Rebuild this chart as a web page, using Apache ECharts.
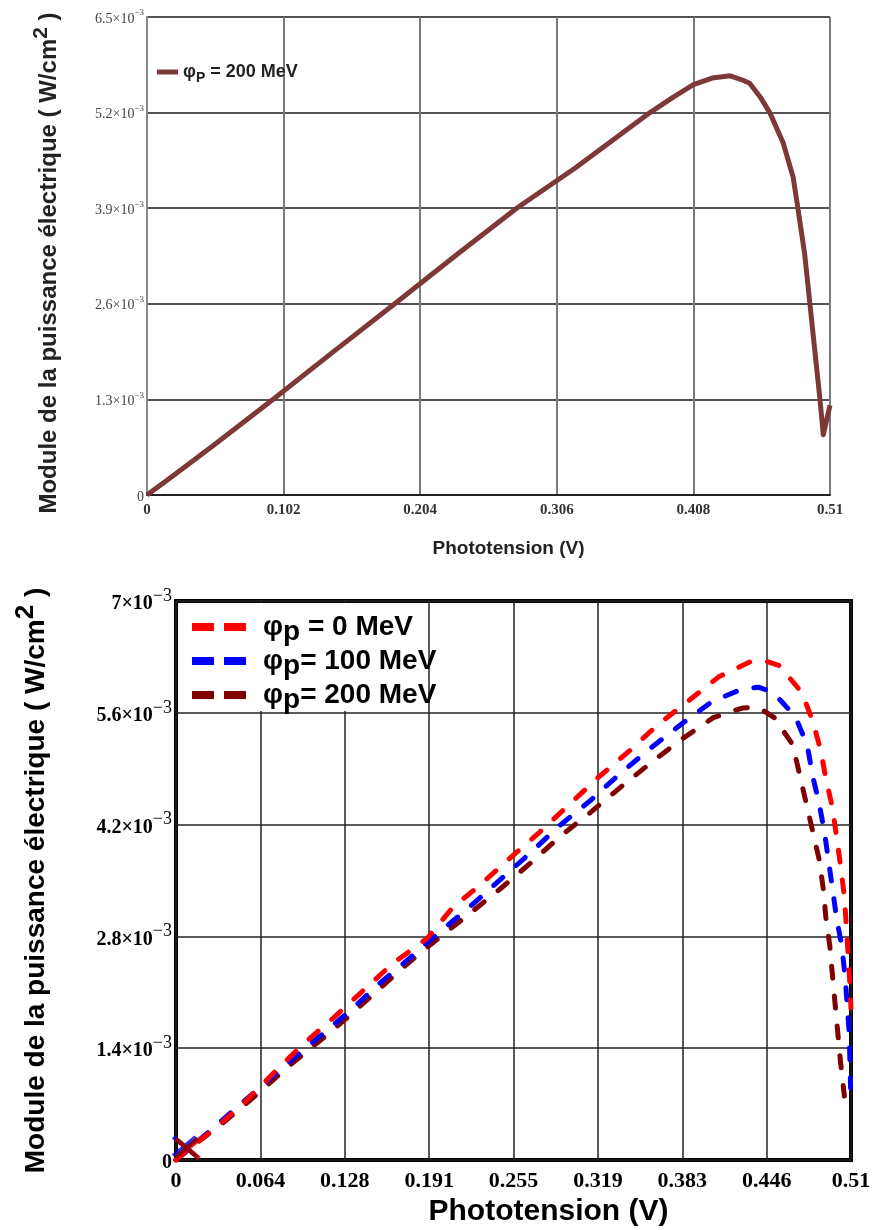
<!DOCTYPE html>
<html>
<head>
<meta charset="utf-8">
<script src="https://cdn.jsdelivr.net/npm/echarts@6/dist/echarts.min.js"></script>
<style>
  html, body { margin: 0; padding: 0; background: #fff; }
  #chart { width: 879px; height: 1230px; }
</style>
</head>
<body>
<div id="chart"></div>
<script>
// values are in units of 1e-3 W/cm2, voltages in V

// top panel, phi_P = 200 MeV
const topV = [0, 0.02, 0.05, 0.094, 0.14, 0.185, 0.23, 0.276, 0.32, 0.3756, 0.393, 0.408, 0.422, 0.4355, 0.445, 0.45, 0.458, 0.465, 0.475, 0.4825, 0.486, 0.491, 0.495, 0.5025, 0.505, 0.51];
const topP = [0, 0.27, 0.68, 1.3, 1.96, 2.6, 3.25, 3.9, 4.45, 5.2, 5.41, 5.58, 5.67, 5.70, 5.64, 5.6, 5.41, 5.2, 4.79, 4.32, 3.9, 3.29, 2.6, 1.3, 0.82, 1.22];

// bottom panel, three fluences
const v0 = [0, 0.011, 0.032, 0.054, 0.075, 0.096, 0.119, 0.14, 0.163, 0.19, 0.209, 0.228, 0.253, 0.275, 0.297, 0.319, 0.343, 0.364, 0.388, 0.41, 0.434, 0.445, 0.456, 0.473, 0.481, 0.487, 0.491, 0.496, 0.499, 0.502, 0.505, 0.507, 0.509, 0.51];
const p0 = [0, 0.16, 0.43, 0.76, 1.11, 1.45, 1.78, 2.1, 2.45, 2.78, 3.16, 3.42, 3.79, 4.11, 4.45, 4.79, 5.13, 5.45, 5.76, 6.05, 6.24, 6.25, 6.19, 5.85, 5.5, 5.14, 4.78, 4.41, 4.06, 3.7, 3.3, 2.8, 2.25, 1.9];

const v100 = [0, 0.012, 0.035, 0.06, 0.085, 0.108, 0.131, 0.153, 0.176, 0.196, 0.222, 0.245, 0.268, 0.29, 0.313, 0.335, 0.358, 0.382, 0.405, 0.428, 0.44, 0.451, 0.468, 0.477, 0.481, 0.486, 0.49, 0.493, 0.496, 0.499, 0.503, 0.5055, 0.5071, 0.5086, 0.5097];
const p100 = [0, 0.17, 0.5, 0.86, 1.22, 1.54, 1.86, 2.2, 2.52, 2.81, 3.17, 3.51, 3.85, 4.19, 4.5, 4.83, 5.15, 5.46, 5.74, 5.9, 5.92, 5.86, 5.55, 5.19, 4.81, 4.46, 4.1, 3.75, 3.4, 3.04, 2.68, 2.31, 1.95, 1.6, 0.9];

const v200 = [0, 0.014, 0.038, 0.061, 0.084, 0.107, 0.13, 0.152, 0.175, 0.2, 0.223, 0.246, 0.268, 0.29, 0.313, 0.336, 0.36, 0.383, 0.406, 0.428, 0.44, 0.452, 0.466, 0.471, 0.476, 0.481, 0.486, 0.489, 0.491, 0.494, 0.496, 0.498, 0.5, 0.502, 0.505];
const p200 = [0, 0.19, 0.5, 0.82, 1.16, 1.47, 1.79, 2.12, 2.46, 2.8, 3.1, 3.41, 3.72, 4.05, 4.35, 4.67, 4.99, 5.28, 5.54, 5.66, 5.67, 5.54, 5.2, 4.84, 4.48, 4.12, 3.76, 3.4, 3.04, 2.68, 2.31, 1.95, 1.6, 1.24, 0.8];

// trace crosses at the origin of the bottom panel
const markerV = [0.0065, 0.009, 0.008];
const markerP = [0.17, 0.14, 0.15];

// tick labels
const topXLabels = ['0', '0.102', '0.204', '0.306', '0.408', '0.51'];
const topYLabels = ['0', '1.3', '2.6', '3.9', '5.2', '6.5'];
const botXLabels = ['0', '0.064', '0.128', '0.191', '0.255', '0.319', '0.383', '0.446', '0.51'];
const botYLabels = ['0', '1.4', '2.8', '4.2', '5.6', '7'];

const serif = '"Liberation Serif", "Times New Roman", serif';
const sans = '"Liberation Sans", Arial, sans-serif';

const pairs = (xs, ys) => xs.map((x, i) => [x, ys[i]]);
const pick = (labels, step) => v => labels[Math.round(v / step)] || '';
const expo = (labels, step) => v => {
  const m = labels[Math.round(v / step)];
  return m === '0' ? '{b|0}' : '{b|' + m + '×10}{s|−3}';
};
const legendText = name => name.replace(/φ([pP])/, 'φ{sub|$1}');

const chart = echarts.init(document.getElementById('chart'));

const option = {
  animation: false,
  backgroundColor: '#fff',
  grid: [
    { left: 147, top: 17, width: 683, height: 478 },
    { left: 176, top: 601, width: 675, height: 559, show: true, borderColor: '#000', borderWidth: 4 }
  ],
  xAxis: [
    {
      gridIndex: 0, type: 'value', min: 0, max: 0.51, interval: 0.102,
      name: 'Phototension (V)', nameLocation: 'middle', nameGap: 44,
      nameTextStyle: { fontFamily: sans, fontWeight: 'bold', fontSize: 19, color: '#222', padding: [0, 0, 0, 40] },
      axisLine: { lineStyle: { color: '#222', width: 2 } },
      axisTick: { show: false },
      axisLabel: { formatter: pick(topXLabels, 0.102), fontFamily: serif, fontWeight: 'bold', fontSize: 15, color: '#333', margin: 8 },
      splitLine: { lineStyle: { color: '#7a7a7a', width: 2 } }
    },
    {
      gridIndex: 1, type: 'value', min: 0, max: 0.51, interval: 0.06375,
      name: 'Phototension (V)', nameLocation: 'middle', nameGap: 37,
      nameTextStyle: { fontFamily: sans, fontWeight: 'bold', fontSize: 30, color: '#000', padding: [0, 0, 0, 70] },
      axisLine: { show: false },
      axisTick: { show: false },
      axisLabel: { formatter: pick(botXLabels, 0.06375), fontFamily: serif, fontWeight: 'bold', fontSize: 22, color: '#000', margin: 10 },
      splitLine: { lineStyle: { color: '#222', width: 1.5 } }
    }
  ],
  yAxis: [
    {
      gridIndex: 0, type: 'value', min: 0, max: 6.5, interval: 1.3,
      name: 'Module de la puissance électrique ( W/cm{sup|2} )', nameLocation: 'middle', nameGap: 79,
      nameTextStyle: {
        fontFamily: sans, fontWeight: 'bold', fontSize: 24, color: '#222', padding: [0, 14, 0, 0],
        rich: { sup: { fontFamily: sans, fontWeight: 'bold', fontSize: 21, color: '#222', padding: [0, 0, 16, 0] } }
      },
      axisLine: { lineStyle: { color: '#888', width: 2 } },
      axisTick: { show: false },
      axisLabel: {
        formatter: expo(topYLabels, 1.3), margin: 3,
        rich: {
          b: { fontFamily: serif, fontSize: 14, color: '#444', padding: [4, 0, 0, 0] },
          s: { fontFamily: serif, fontSize: 9, color: '#444', padding: [0, 0, 8, 0] }
        }
      },
      splitLine: { lineStyle: { color: '#1a1a1a', width: 1.5 } }
    },
    {
      gridIndex: 1, type: 'value', min: 0, max: 7, interval: 1.4,
      name: 'Module de la puissance électrique ( W/cm{sup|2} )', nameLocation: 'middle', nameGap: 117,
      nameTextStyle: {
        fontFamily: sans, fontWeight: 'bold', fontSize: 28, color: '#000',
        rich: { sup: { fontFamily: sans, fontWeight: 'bold', fontSize: 26, color: '#000', padding: [0, 0, 20, 0] } }
      },
      axisLine: { show: false },
      axisTick: { show: false },
      axisLabel: {
        formatter: expo(botYLabels, 1.4), margin: 4,
        rich: {
          b: { fontFamily: serif, fontWeight: 'bold', fontSize: 20, color: '#000', padding: [6, 0, 0, 0] },
          s: { fontFamily: serif, fontSize: 18, color: '#000', padding: [0, 0, 10, 0] }
        }
      },
      splitLine: { lineStyle: { color: '#222', width: 1.5 } }
    }
  ],
  legend: [
    {
      data: ['φP = 200 MeV'], left: 152, top: 58, selectedMode: false,
      icon: 'rect', itemWidth: 21, itemHeight: 5,
      formatter: legendText,
      textStyle: {
        fontFamily: sans, fontWeight: 'bold', fontSize: 18, color: '#222',
        rich: { sub: { fontFamily: sans, fontWeight: 'bold', fontSize: 14, color: '#222', padding: [12, 0, 0, 0] } }
      }
    },
    {
      data: ['φp = 0 MeV', 'φp= 100 MeV', 'φp= 200 MeV'], orient: 'vertical', left: 187, top: 603,
      itemGap: -4, selectedMode: false,
      icon: 'path://M0,0H22V8H0Z M32,0H54V8H32Z', itemWidth: 54, itemHeight: 8,
      formatter: legendText,
      textStyle: {
        fontFamily: sans, fontWeight: 'bold', fontSize: 28, color: '#000', lineHeight: 28,
        padding: [0, 0, 0, 12],
        rich: { sub: { fontFamily: sans, fontWeight: 'bold', fontSize: 28, color: '#000', lineHeight: 24, padding: [10, 0, 0, 0] } }
      }
    }
  ],
  graphic: [
    { type: 'rect', z: 1, shape: { x: 178, y: 603, width: 248, height: 108 }, style: { fill: '#fff' }, silent: true }
  ],
  series: [
    {
      name: 'φP = 200 MeV', type: 'line', xAxisIndex: 0, yAxisIndex: 0,
      data: pairs(topV, topP), symbol: 'none',
      itemStyle: { color: '#7d3838' },
      lineStyle: { color: '#7d3838', width: 5, join: 'round' }
    },
    {
      name: 'φp = 0 MeV', type: 'line', xAxisIndex: 1, yAxisIndex: 1,
      data: pairs(v0, p0), symbol: 'none', z: 4,
      itemStyle: { color: '#ff0000' },
      lineStyle: { color: '#ff0000', width: 5, type: [12, 18], cap: 'round', join: 'round' }
    },
    {
      name: 'φp= 100 MeV', type: 'line', xAxisIndex: 1, yAxisIndex: 1,
      data: pairs(v100, p100), symbol: 'none', z: 3,
      itemStyle: { color: '#0000ff' },
      lineStyle: { color: '#0000ff', width: 5, type: [12, 18], cap: 'round', join: 'round' }
    },
    {
      name: 'φp= 200 MeV', type: 'line', xAxisIndex: 1, yAxisIndex: 1,
      data: pairs(v200, p200), symbol: 'none', z: 2,
      itemStyle: { color: '#800000' },
      lineStyle: { color: '#800000', width: 5, type: [12, 18], cap: 'round', join: 'round' }
    },
    {
      name: 'origin', type: 'scatter', xAxisIndex: 1, yAxisIndex: 1, z: 5,
      symbol: 'path://M0,1.3L1.3,0L5,3.7L8.7,0L10,1.3L6.3,5L10,8.7L8.7,10L5,6.3L1.3,10L0,8.7L3.7,5Z',
      symbolSize: [26, 22],
      data: markerV.map((v, i) => ({
        value: [v, markerP[i]],
        itemStyle: { color: ['#0000ff', '#ff0000', '#800000'][i] }
      }))
    }
  ]
};

chart.setOption(option);
</script>
</body>
</html>
